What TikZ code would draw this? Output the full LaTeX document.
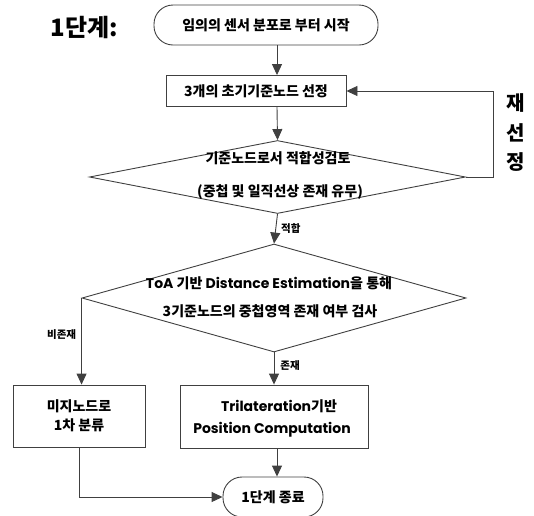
\documentclass[tikz,border=0pt]{standalone}
\usepackage{fontspec}
\setmainfont{Noto Sans CJK KR}
\newfontfamily\lat{Poppins}
\usetikzlibrary{shapes.geometric,arrows.meta}
\begin{document}
\begin{tikzpicture}[x=1pt,y=-1pt,
  ln/.style={draw=black!75, line width=0.9pt},
  arr/.style={ln, -{Triangle[length=11pt,width=10pt]}},
  boxnode/.style={ln, rectangle, inner sep=0pt},
  term/.style={ln, rectangle, rounded corners=19pt, inner sep=0pt},
  dia/.style={ln, diamond, inner sep=0pt},
  txt/.style={font=\bfseries\fontsize{14}{16}\selectfont, inner sep=0pt},
  lbl/.style={font=\bfseries\fontsize{10.5}{12}\selectfont, inner sep=0pt}]
\useasboundingbox (0,0) rectangle (534,515);
\coordinate (spine) at (277,0);
% title
\node[font=\bfseries\fontsize{24}{26}\selectfont, inner sep=0pt] (title) at (84,27) {1단계:};
% start
\node[term, minimum width=224pt, minimum height=40pt] (start) at (266,25) {};
\node[txt] (starttxt) at (start) {임의의 센서 분포로 부터 시작};
% box1
\node[boxnode, minimum width=180pt, minimum height=31pt] (b1) at (256,91) {};
\node[txt] (b1txt) at (b1) {3개의 초기기준노드 선정};
% diamond 1
\node[dia, minimum width=376pt, minimum height=73pt] (d1) at (277.5,177) {};
\node[txt] (d1a) at (278,158) {기준노드로서 적합성검토};
\node[txt] (d1b) at (280,192) {(중첩 및 일직선상 존재 유무)};
% diamond 2
\node[dia, minimum width=384pt, minimum height=108pt] (d2) at (274,298) {};
\node[txt] (d2a) at (269,283) {{\lat\bfseries ToA} 기반 {\lat\bfseries Distance Estimation}을 통해};
\node[txt] (d2b) at (270,311) {3기준노드의 중첩영역 존재 여부 검사};
% left box
\node[boxnode, minimum width=132pt, minimum height=62pt] (lb) at (79,416) {};
\node[txt, align=center, font=\bfseries\fontsize{14}{19}\selectfont] (lbtxt) at (lb) {미지노드로\\1차 분류};
% right box
\node[boxnode, minimum width=188pt, minimum height=63pt] (rb) at (274,416.5) {};
\node[txt] (rba) at (279,406) {{\lat\bfseries Trilateration}기반};
\node[txt] (rbb) at (272,430) {\lat\bfseries Position Computation};
% end
\node[term, minimum width=100pt, minimum height=40pt] (end) at (273,497) {};
\node[txt] (endtxt) at (end) {1단계 종료};
% feedback label
\node[font=\bfseries\fontsize{20}{21}\selectfont, inner sep=0pt] (re1) at (516,103) {재};
\node[font=\bfseries\fontsize{20}{21}\selectfont, inner sep=0pt] (re2) at (516,133) {선};
\node[font=\bfseries\fontsize{20}{21}\selectfont, inner sep=0pt] (re3) at (516,162) {정};
\coordinate (fbx) at (493,0);
% connectors
\draw[arr] (start.south -| spine) -- (b1.north -| spine);
\draw[arr] (b1.south -| spine) -- (d1.north);
\draw[arr] (d1.south) -- (d2.north) node[lbl, pos=0.5, right=5pt] (lfit) {적합};
\draw[arr] (d2.south) -- (rb.north -| d2.south) node[lbl, pos=0.4, right=6pt] (lex) {존재};
\draw[arr] (d2.west) -- (d2.west |- lb.north) node[lbl, pos=0.42, left=5pt] (lnex) {비존재};
\draw[arr] (rb.south -| spine) -- (end.north -| spine);
\draw[arr] (lb.south) |- (end.west);
\draw[arr] (d1.east) -- (d1.east -| fbx) |- (b1.east);
\end{tikzpicture}
\end{document}
